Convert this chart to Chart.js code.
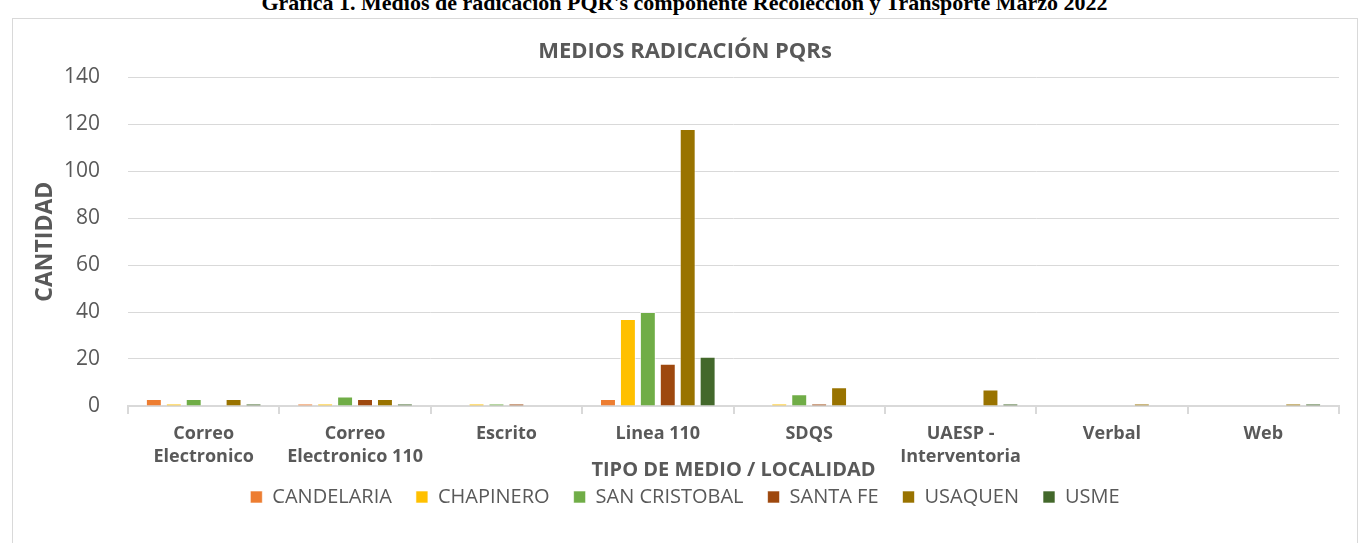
<!DOCTYPE html>
<html>
<head>
<meta charset="utf-8">
<script src="https://cdn.jsdelivr.net/npm/chart.js@4.4.0/dist/chart.umd.min.js"></script>
<style>
  body { margin: 0; background: #fff; width: 1369px; height: 543px; overflow: hidden; position: relative; }
  #caption { position: absolute; top: -10px; left: 0; width: 1369px; text-align: center; line-height: 22px;
             font: bold 22px "Liberation Serif", "Times New Roman", serif; color: #000; }
  #box { position: absolute; left: 12px; top: 18px; width: 1344px; height: 540px; border: 1px solid #d9d9d9; }
  #wrap { position: absolute; left: 13px; top: 19px; width: 1344px; height: 524px; }
</style>
</head>
<body>
<div id="caption">Grafica 1. Medios de radicación PQR's componente Recolección y Transporte Marzo 2022</div>
<div id="box"></div>
<div id="wrap"><canvas id="chart"></canvas></div>
<script>
// categorias (tipo de medio)
var categories = [
  ['Correo', 'Electronico'],
  ['Correo', 'Electronico 110'],
  'Escrito',
  'Linea 110',
  'SDQS',
  ['UAESP -', 'Interventoria'],
  'Verbal',
  'Web'
];
var localidades = ['CANDELARIA', 'CHAPINERO', 'SAN CRISTOBAL', 'SANTA FE', 'USAQUEN', 'USME'];
var colores = ['#ED7D31', '#FFC000', '#70AD47', '#9E480E', '#997300', '#43682B'];

// valores por localidad
var candelaria   = [3, 1, 0, 3, 0, 0, 0, 0];
var chapinero    = [1, 1, 1, 37, 1, 0, 0, 0];
var sanCristobal = [3, 4, 1, 40, 5, 0, 0, 0];
var santaFe      = [0, 3, 1, 18, 1, 0, 0, 0];
var usaquen      = [3, 3, 0, 118, 8, 7, 1, 1];
var usme         = [1, 1, 0, 21, 0, 1, 0, 1];
var series = [candelaria, chapinero, sanCristobal, santaFe, usaquen, usme];

var yTicks = [0, 20, 40, 60, 80, 100, 120, 140];

var FONT = '"Open Sans", "Liberation Sans", sans-serif';
var GRAY = '#595959';

var datasets = [];
for (var i = 0; i < localidades.length; i++) {
    datasets.push({
        label: localidades[i],
        data: series[i],
        backgroundColor: colores[i],
        borderColor: 'rgba(255,255,255,0.6)',
        borderWidth: 1,
        barPercentage: 0.8,
        categoryPercentage: 0.79
    });
}

Chart.defaults.font.family = FONT;
Chart.defaults.color = GRAY;

new Chart(document.getElementById('chart'), {
    type: 'bar',
    data: { labels: categories, datasets: datasets },
    options: {
        responsive: true,
        maintainAspectRatio: false,
        animation: false,
        layout: { padding: { left: 18, right: 18, top: 4, bottom: 26 } },
        plugins: {
            title: {
                display: true,
                text: 'MEDIOS RADICACIÓN PQRs',
                color: GRAY,
                font: { size: 22, weight: 'bold', family: FONT },
                padding: { top: 16, bottom: 12 }
            },
            legend: {
                position: 'bottom',
                labels: {
                    boxWidth: 12, boxHeight: 12, padding: 24,
                    color: GRAY,
                    font: { size: 20, family: FONT }
                }
            },
            tooltip: { enabled: false }
        },
        scales: {
            x: {
                grid: { drawOnChartArea: false, drawTicks: true, tickLength: 8, color: '#d9d9d9', lineWidth: 2 },
                border: { color: '#d9d9d9', width: 2 },
                ticks: { color: GRAY, font: { size: 18, weight: 'bold', family: FONT, lineHeight: 1.28 }, maxRotation: 0, autoSkip: false, padding: 8 },
                title: {
                    display: true, text: 'TIPO DE MEDIO / LOCALIDAD', color: GRAY,
                    font: { size: 20, weight: 'bold', family: FONT }, padding: { top: -18, bottom: -19 }
                }
            },
            y: {
                min: 0, max: 140,
                afterBuildTicks: function(axis) {
                    axis.ticks = yTicks.map(function(v) { return { value: v }; });
                },
                afterFit: function(axis) { axis.width = 97; },
                grid: { color: '#d9d9d9', lineWidth: 1, drawTicks: false },
                border: { display: false },
                ticks: { color: GRAY, font: { size: 21, family: FONT }, padding: 28 },
                title: {
                    display: true, text: 'CANTIDAD', color: GRAY,
                    font: { size: 23, weight: 'bold', family: FONT }, padding: { top: 1, bottom: 8 }
                }
            }
        }
    }
});
</script>
</body>
</html>
